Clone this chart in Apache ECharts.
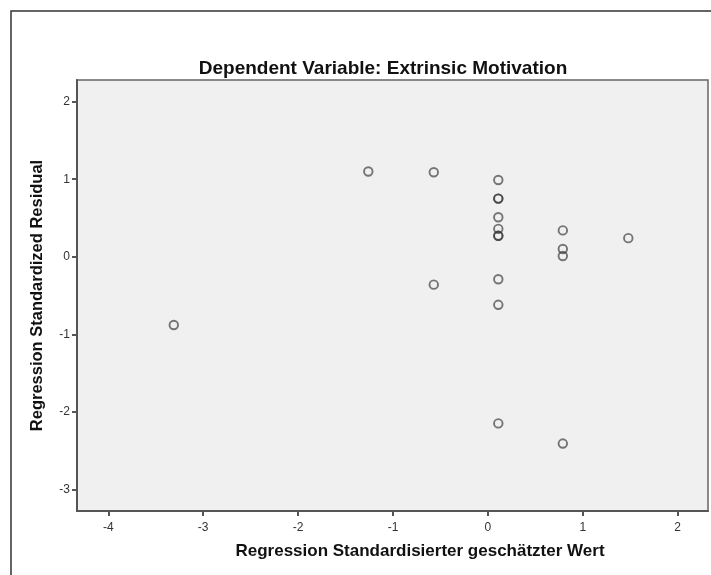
<!DOCTYPE html>
<html>
<head>
<meta charset="utf-8">
<script src="https://cdn.jsdelivr.net/npm/echarts@6/dist/echarts.min.js"></script>
<style>
  html, body { margin: 0; padding: 0; background: #ffffff; }
  #chart { width: 711px; height: 575px; }
</style>
</head>
<body>
<div id="chart"></div>
<script>
// Scatterplot of standardized residuals vs. standardized predicted values
const chartTitle = 'Dependent Variable: Extrinsic Motivation';
const xAxisName = 'Regression Standardisierter geschätzter Wert';
const yAxisName = 'Regression Standardized Residual';

// standardized predicted value of each case
const predicted = [
  -3.31, -1.26, -0.57, -0.57,
  0.11, 0.11, 0.11, 0.11, 0.11, 0.11, 0.11, 0.11, 0.11, 0.11,
  0.79, 0.79, 0.79, 0.79,
  1.48
];
// standardized residual of each case
const residual = [
  -0.88, 1.10, 1.09, -0.36,
  0.99, 0.75, 0.75, 0.51, 0.36, 0.27, 0.27, -0.29, -0.62, -2.15,
  0.34, 0.10, 0.01, -2.41,
  0.24
];

const xTicks = [-4, -3, -2, -1, 0, 1, 2];
const yTicks = [-3, -2, -1, 0, 1, 2];

const points = predicted.map((p, i) => [p, residual[i]]);

const chart = echarts.init(document.getElementById('chart'), null, { renderer: 'canvas' });

const labelFont = 'Liberation Sans, Arial, sans-serif';

chart.setOption({
  animation: false,
  backgroundColor: '#ffffff',
  title: {
    text: chartTitle,
    left: 378,
    textAlign: 'center',
    top: 54,
    textStyle: { fontFamily: labelFont, fontWeight: 'bold', fontSize: 19, color: '#111' }
  },
  graphic: [
    {
      type: 'polyline',
      silent: true,
      shape: { points: [[11, 600], [11, 11], [720, 11]] },
      style: { stroke: '#333', lineWidth: 1.5, fill: null }
    }
  ],
  grid: {
    left: 77, top: 80, right: 3, bottom: 64,
    show: true,
    backgroundColor: '#f0f0f0',
    borderColor: '#666',
    borderWidth: 1.5
  },
  xAxis: {
    type: 'value',
    min: -4.33, max: 2.32,
    name: xAxisName,
    nameLocation: 'middle',
    nameGap: 32,
    nameTextStyle: { fontFamily: labelFont, fontWeight: 'bold', fontSize: 17, color: '#111', padding: [0, 0, 0, 55] },
    axisLine: { show: true, onZero: false, lineStyle: { color: '#555', width: 2 } },
    axisTick: { show: true, length: 5, lineStyle: { color: '#555', width: 2 }, customValues: xTicks },
    axisLabel: { color: '#333', fontFamily: labelFont, fontSize: 12, margin: 11, customValues: xTicks },
    splitLine: { show: false }
  },
  yAxis: {
    type: 'value',
    min: -3.28, max: 2.28,
    name: yAxisName,
    nameLocation: 'middle',
    nameGap: 31,
    nameRotate: 90,
    nameTextStyle: { fontFamily: labelFont, fontWeight: 'bold', fontSize: 16.5, color: '#111' },
    axisLine: { show: true, onZero: false, lineStyle: { color: '#555', width: 2 } },
    axisTick: { show: true, length: 5, lineStyle: { color: '#555', width: 2 }, customValues: yTicks },
    axisLabel: { color: '#333', fontFamily: labelFont, fontSize: 12, margin: 7, customValues: yTicks },
    splitLine: { show: false }
  },
  series: [
    {
      type: 'scatter',
      data: points,
      symbol: 'circle',
      symbolSize: 8.5,
      itemStyle: {
        color: 'rgba(0,0,0,0)',
        borderColor: 'rgba(50,50,50,0.82)',
        borderWidth: 1.9
      },
      emphasis: { disabled: true }
    }
  ]
});
</script>
</body>
</html>
